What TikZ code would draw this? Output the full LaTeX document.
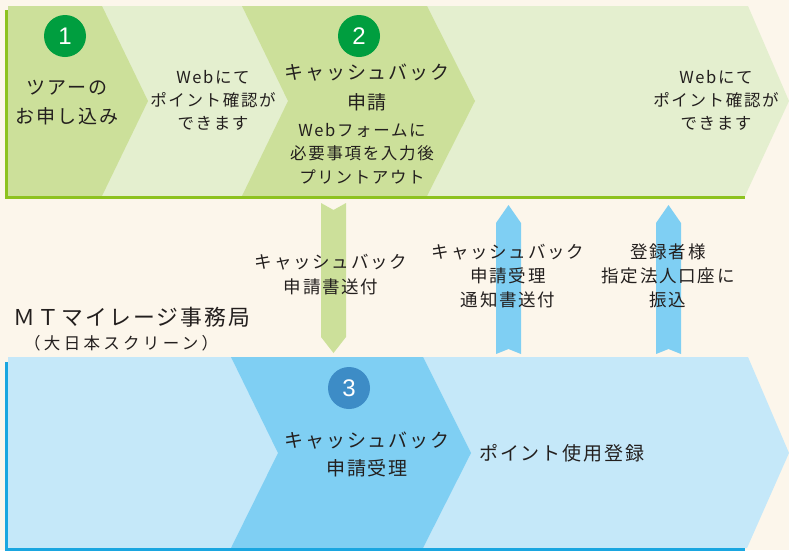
\documentclass[tikz,border=0pt]{standalone}
\usepackage{fontspec}
\setmainfont{Noto Sans CJK JP}
\newfontfamily\jpf[LetterSpace=10]{Noto Sans CJK JP}
\newfontfamily\jpw[LetterSpace=20]{Noto Sans CJK JP}
\newfontfamily\numf{Liberation Sans}
\definecolor{bgc}{HTML}{FCF6EB}
\definecolor{dgreen}{HTML}{CCE09A}
\definecolor{lgreen}{HTML}{E4EFCF}
\definecolor{gline}{HTML}{8DC21F}
\definecolor{cgreen}{HTML}{009E3F}
\definecolor{lblue}{HTML}{C5E8F9}
\definecolor{mblue}{HTML}{7FCFF3}
\definecolor{bline}{HTML}{1AA6E0}
\definecolor{cblue}{HTML}{3D8CC6}
\definecolor{txt}{HTML}{231F1E}
\tikzset{
  numcirc/.style={circle, minimum size=42pt, inner sep=0pt, text=white, font=\numf\fontsize{24}{24}\selectfont},
  lbl/.style={inner sep=0pt, align=center, text=txt},
  big/.style={lbl, font=\jpf\fontsize{19}{29}\selectfont},
  small/.style={lbl, font=\jpf\fontsize{16.5}{23}\selectfont},
  mid/.style={lbl, font=\jpf\fontsize{17.5}{24}\selectfont},
}
\begin{document}
\begin{tikzpicture}[x=1pt,y=-1pt]
\useasboundingbox (0,0) rectangle (789,550);
\fill[bgc] (0,0) rectangle (789,550);
% top band
\fill[lgreen] (8,6) -- (748,6) -- (789,101) -- (745,196) -- (8,196) -- cycle;
\fill[dgreen] (8,6) -- (102,6) -- (148,101) -- (102,196) -- (8,196) -- cycle;
\fill[dgreen] (242,6) -- (427,6) -- (475,101) -- (427,196) -- (242,196) -- (288,101) -- cycle;
\fill[gline] (5,10) rectangle (8,199);
\fill[gline] (5,196) rectangle (745,199);
% bottom band
\fill[lblue] (8,357) -- (748,357) -- (789,453) -- (747,548) -- (8,548) -- cycle;
\fill[mblue] (231,357) -- (423,357) -- (471,453) -- (423,548) -- (231,548) -- (278,453) -- cycle;
\fill[bline] (5,362) rectangle (8,551);
\fill[bline] (5,548) rectangle (745,551);
% arrows
\fill[dgreen] (321,203) -- (333.5,210) -- (346,203) -- (346,337) -- (333.5,353) -- (321,337) -- cycle;
\fill[mblue] (496,354) -- (508.5,349) -- (521,354) -- (521,223) -- (508.5,205) -- (496,223) -- cycle;
\fill[mblue] (656,354) -- (668.5,349) -- (681,354) -- (681,223) -- (668.5,205) -- (656,223) -- cycle;
% circles
\node[numcirc, fill=cgreen] (c1) at (65,36) {1};
\node[numcirc, fill=cgreen] (c2) at (359,36) {2};
\node[numcirc, fill=cblue] (c3) at (349,388) {3};
% texts top
\node[big] (t1) at (67,102.5) {ツアーの\\お申し込み};
\node[small] (t2) at (213,100) {Webにて\\ポイント確認が\\できます};
\node[big, font=\jpf\fontsize{19}{30}\selectfont] (t3a) at (367,87) {キャッシュバック\\申請};
\node[small, font=\jpf\fontsize{16.5}{23.5}\selectfont] (t3b) at (362,153.5) {Webフォームに\\必要事項を入力後\\プリントアウト};
\node[small] (t4) at (716,100) {Webにて\\ポイント確認が\\できます};
% middle labels
\node[mid, font=\jpf\fontsize{17.5}{25}\selectfont] (g1) at (331,274.5) {キャッシュバック\\申請書送付};
\node[mid] (b1) at (508,276) {キャッシュバック\\申請受理\\通知書送付};
\node[mid] (b2) at (668,276) {登録者様\\指定法人口座に\\振込};
\node[lbl, anchor=west, font=\jpf\fontsize{21.8}{22}\selectfont] (mt) at (13,317) {ＭＴマイレージ事務局};
\node[lbl, anchor=west, font=\jpw\fontsize{16.5}{17}\selectfont] (ds) at (24,343) {（大日本スクリーン）};
% bottom texts
\node[big, font=\jpf\fontsize{19}{28}\selectfont] (t5) at (367,454) {キャッシュバック\\申請受理};
\node[big, anchor=west] (t6) at (479,453) {ポイント使用登録};
\end{tikzpicture}
\end{document}
